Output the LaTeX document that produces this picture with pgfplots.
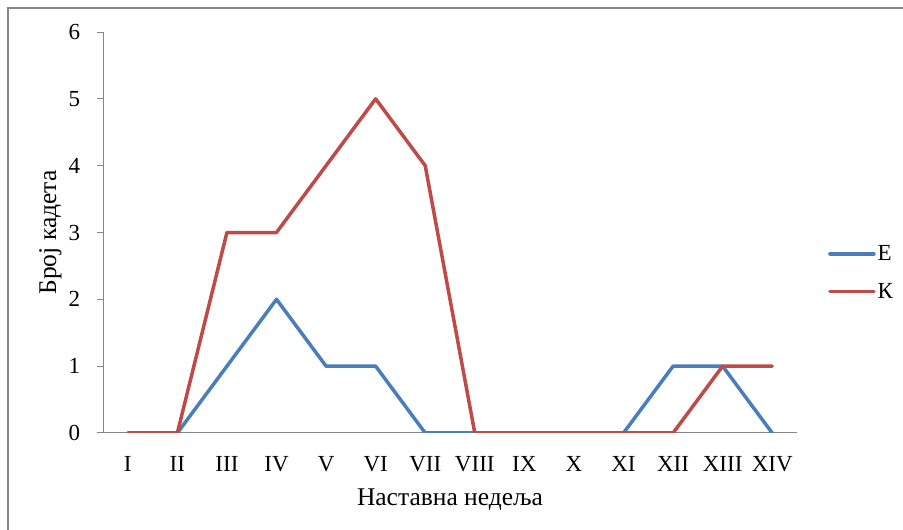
\documentclass[border=0pt]{standalone}
\usepackage{pgfplots}
\pgfplotsset{compat=1.18}
\usepackage{fontspec}
\setmainfont{Liberation Serif}
\definecolor{eblue}{RGB}{74,126,187}
\definecolor{kred}{RGB}{190,75,72}
\definecolor{axgray}{RGB}{134,134,134}
\begin{document}
\begin{tikzpicture}
\useasboundingbox (0pt,0pt) rectangle (903pt,530pt);
\draw[axgray, line width=2.5pt] (8pt,-5pt) -- (8pt,522pt) -- (910pt,522pt);
\begin{axis}[
  at={(103pt,97pt)}, anchor=south west,
  scale only axis, width=694pt, height=401pt,
  xmin=-0.5, xmax=13.5, ymin=0, ymax=6,
  axis x line*=bottom, axis y line*=left,
  axis line style={draw=axgray, line width=1pt},
  xtick={0,...,13},
  xticklabels={I,II,III,IV,V,VI,VII,VIII,IX,X,XI,XII,XIII,XIV},
  ytick={0,...,6},
  /pgf/number format/assume math mode=true,
  major x tick style={draw=none},
  major y tick style={draw=axgray, line width=1pt},
  tick align=outside, major tick length=6pt,
  tick label style={font=\fontsize{23}{26}\selectfont},
  xticklabel style={yshift=-14.3pt},
  yticklabel style={xshift=-13.3pt},
  label style={font=\fontsize{25.5}{29}\selectfont},
  xlabel={Наставна недеља},
  ylabel={Број кадета},
  xlabel style={at={(axis description cs:0.5,-0.1796)}, anchor=base},
  ylabel style={at={(axis description cs:-0.0677,0.5)}, anchor=base},
  legend style={draw=none, at={(1.0447,0.40)}, anchor=west,
    font=\fontsize{23}{26}\selectfont, row sep=17pt, inner sep=0pt,
    nodes={inner sep=2pt}},
  legend cell align=left,
  legend image code/.code={\draw[#1] (0pt,0pt) -- (44pt,0pt);},
  every axis plot/.append style={line width=3.5pt, line join=round, line cap=round},
]
\addplot[eblue] coordinates {(0,0) (1,0) (2,1) (3,2) (4,1) (5,1) (6,0) (7,0) (8,0) (9,0) (10,0) (11,1) (12,1) (13,0)};
\addlegendentry{Е}
\addplot[kred] coordinates {(0,0) (1,0) (2,3) (3,3) (4,4) (5,5) (6,4) (7,0) (8,0) (9,0) (10,0) (11,0) (12,1) (13,1)};
\addlegendentry{К}
\end{axis}
\end{tikzpicture}
\end{document}
